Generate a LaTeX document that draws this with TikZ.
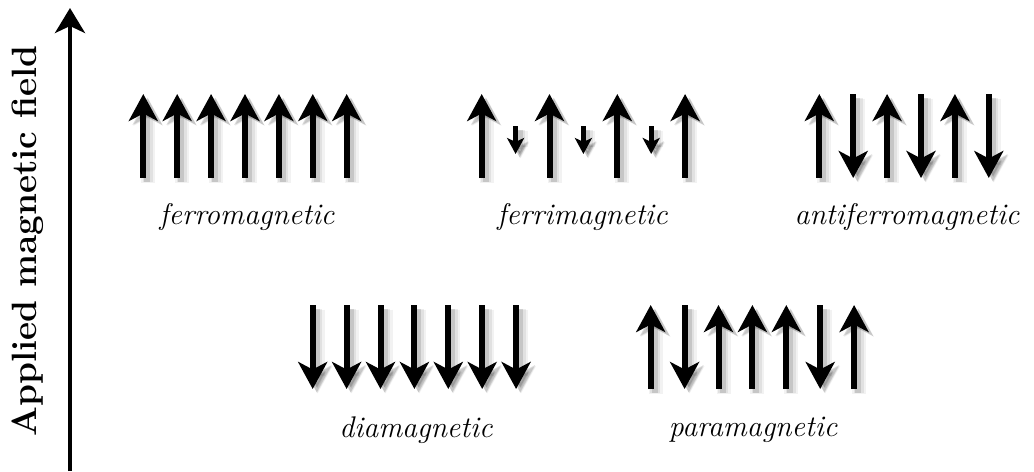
\documentclass[tikz,border=0pt]{standalone}
\usepackage{amsmath}
\usetikzlibrary{arrows.meta}

\tikzset{
  spin/.style={line width=0.12cm, black,
    -{Stealth[length=0.54cm, width=0.58cm, inset=0.15cm]},
    preaction={draw=black, opacity=0.05, line width=0.28cm,
      transform canvas={shift={(0.1cm,-0.09cm)}}},
    preaction={draw=black, opacity=0.07, line width=0.2cm,
      transform canvas={shift={(0.09cm,-0.08cm)}}},
    preaction={draw=black, opacity=0.12, line width=0.12cm,
      transform canvas={shift={(0.08cm,-0.07cm)}}}},
  smallspin/.style={spin, line width=0.1cm,
    -{Stealth[length=0.32cm, width=0.34cm, inset=0.08cm]}},
  field/.style={line width=0.08cm,
    -{Stealth[length=0.5cm, width=0.6cm, inset=0.14cm]}},
  phase/.style={font=\fontsize{17}{20}\selectfont\itshape},
}

\begin{document}
\begin{tikzpicture}[x=0.02cm, y=0.02cm]
\useasboundingbox (0,0) rectangle (1034,471);

  \def\d{33.9}  % spacing of the spins
  \def\L{84}    % spin length
  \def\ya{293}  % bottom of upper row
  \def\yb{82}   % bottom of lower row

%% ── Field axis ─────────────────────────────
  \coordinate (base) at (70,0);
  \coordinate (top)  at (70,463);
  \draw[field] (base) -- (top);
  \node[rotate=90, font=\fontsize{20}{24}\selectfont\bfseries] (fieldlabel)
        at (28,230) {Applied magnetic field};

%% ── Ferromagnetic: all up ─────────────────
  \def\xa{143.3}
  \draw[spin] (\xa+0*\d,\ya) -- ++(0,\L);
  \draw[spin] (\xa+1*\d,\ya) -- ++(0,\L);
  \draw[spin] (\xa+2*\d,\ya) -- ++(0,\L);
  \draw[spin] (\xa+3*\d,\ya) -- ++(0,\L);
  \draw[spin] (\xa+4*\d,\ya) -- ++(0,\L);
  \draw[spin] (\xa+5*\d,\ya) -- ++(0,\L);
  \draw[spin] (\xa+6*\d,\ya) -- ++(0,\L);
  \node[phase] (ferro) at (247,254) {ferromagnetic};

%% ── Ferrimagnetic: big up, small down ─────
  \def\xb{481.7}
  \draw[spin] (\xb+0*\d,\ya) -- ++(0,\L);
  \draw[smallspin] (\xb+1*\d,345) -- (\xb+1*\d,317);
  \draw[spin] (\xb+2*\d,\ya) -- ++(0,\L);
  \draw[smallspin] (\xb+3*\d,345) -- (\xb+3*\d,317);
  \draw[spin] (\xb+4*\d,\ya) -- ++(0,\L);
  \draw[smallspin] (\xb+5*\d,345) -- (\xb+5*\d,317);
  \draw[spin] (\xb+6*\d,\ya) -- ++(0,\L);
  \node[phase] (ferri) at (582.5,254) {ferrimagnetic};

%% ── Antiferromagnetic: up down up down ────
  \def\xc{819.3}
  \draw[spin] (\xc+0*\d,\ya) -- ++(0,\L);
  \draw[spin] (\xc+1*\d,\ya+\L) -- ++(0,-\L);
  \draw[spin] (\xc+2*\d,\ya) -- ++(0,\L);
  \draw[spin] (\xc+3*\d,\ya+\L) -- ++(0,-\L);
  \draw[spin] (\xc+4*\d,\ya) -- ++(0,\L);
  \draw[spin] (\xc+5*\d,\ya+\L) -- ++(0,-\L);
  \node[phase] (antiferro) at (907,254) {antiferromagnetic};

%% ── Diamagnetic: all down ─────────────────
  \def\xd{312.7}
  \draw[spin] (\xd+0*\d,\yb+\L) -- ++(0,-\L);
  \draw[spin] (\xd+1*\d,\yb+\L) -- ++(0,-\L);
  \draw[spin] (\xd+2*\d,\yb+\L) -- ++(0,-\L);
  \draw[spin] (\xd+3*\d,\yb+\L) -- ++(0,-\L);
  \draw[spin] (\xd+4*\d,\yb+\L) -- ++(0,-\L);
  \draw[spin] (\xd+5*\d,\yb+\L) -- ++(0,-\L);
  \draw[spin] (\xd+6*\d,\yb+\L) -- ++(0,-\L);
  \node[phase] (dia) at (416,41) {diamagnetic};

%% ── Paramagnetic: random ──────────────────
  \def\xe{650.7}
  \draw[spin] (\xe+0*\d,\yb) -- ++(0,\L);
  \draw[spin] (\xe+1*\d,\yb+\L) -- ++(0,-\L);
  \draw[spin] (\xe+2*\d,\yb) -- ++(0,\L);
  \draw[spin] (\xe+3*\d,\yb) -- ++(0,\L);
  \draw[spin] (\xe+4*\d,\yb) -- ++(0,\L);
  \draw[spin] (\xe+5*\d,\yb+\L) -- ++(0,-\L);
  \draw[spin] (\xe+6*\d,\yb) -- ++(0,\L);
  \node[phase] (para) at (753,41) {paramagnetic};

\end{tikzpicture}
\end{document}
